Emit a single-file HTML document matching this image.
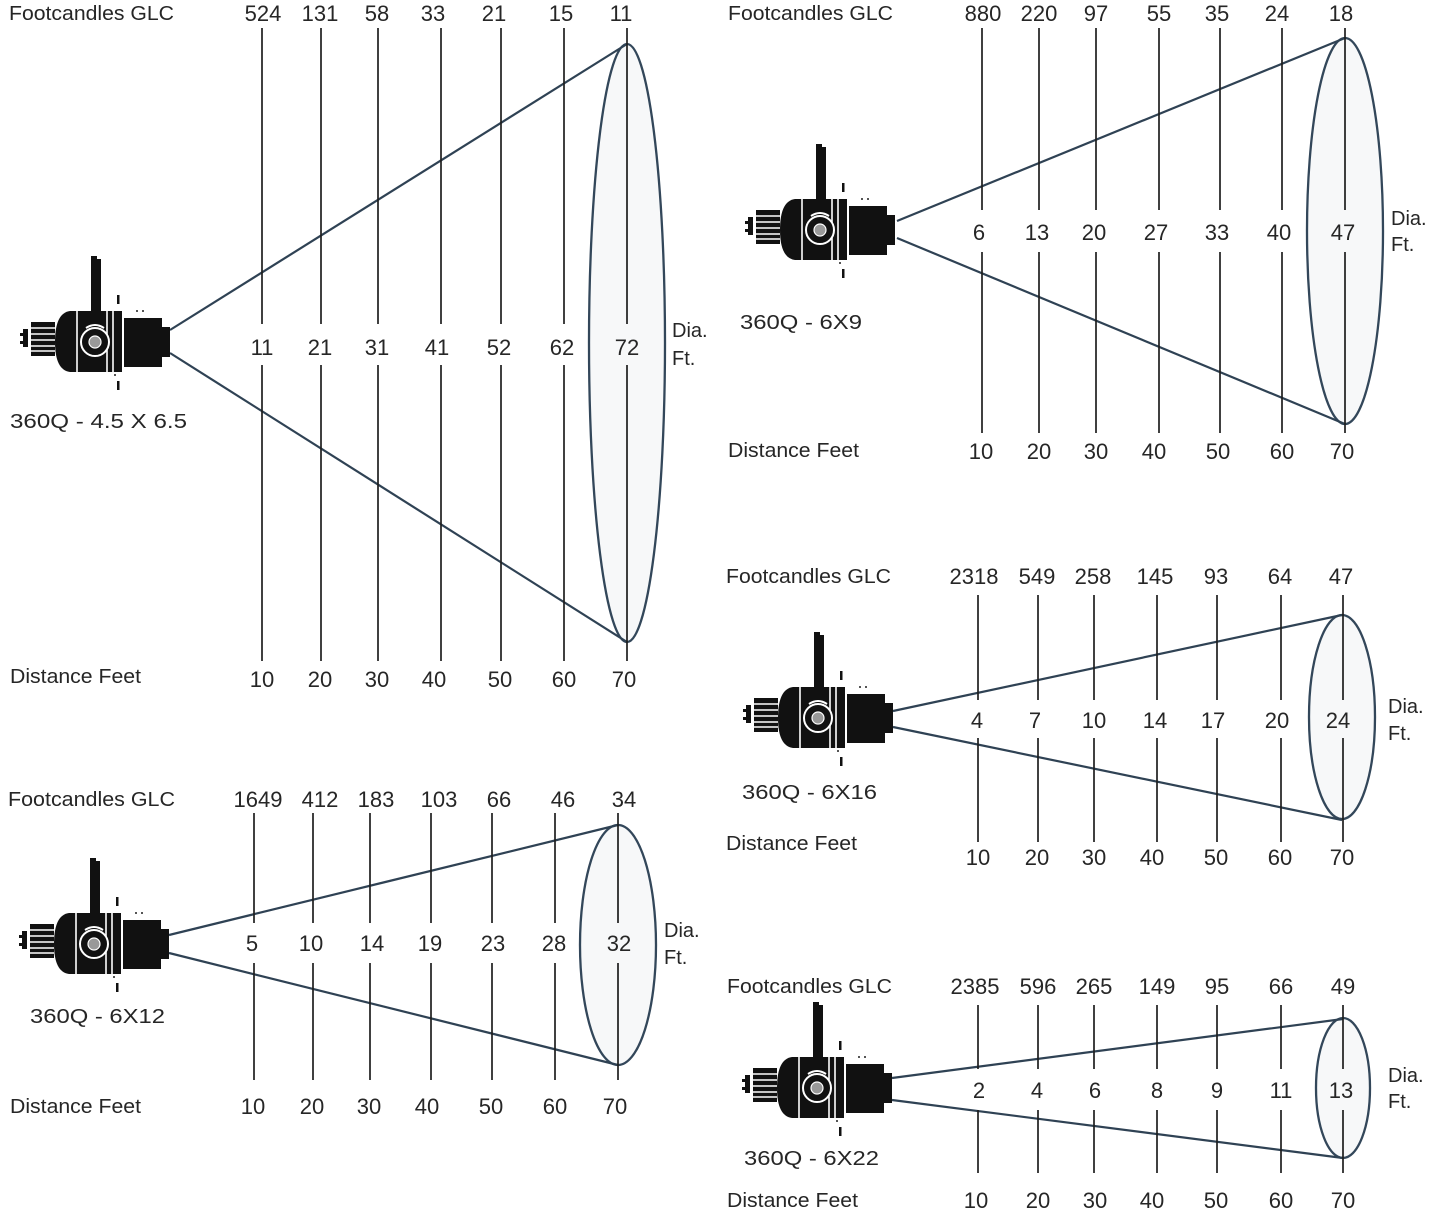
<!DOCTYPE html>
<html><head><meta charset="utf-8"><style>
html,body{margin:0;padding:0;background:#fff;}
svg{display:block;}
text{font-family:"Liberation Sans",sans-serif;fill:#262626;}
.n{font-size:22px;text-anchor:middle;}
.w{font-size:20px;}
.v{stroke:#1e1e1e;stroke-width:1.7;}
.c{stroke:#2f4254;stroke-width:2.2;fill:none;}
.e{stroke:#33475a;stroke-width:2.3;fill:#f7f8f9;}
</style></head><body>
<svg width="1445" height="1227" viewBox="0 0 1445 1227" xmlns="http://www.w3.org/2000/svg">
<defs>
<g id="fx">
  <rect x="-147" y="-13" width="5" height="18" fill="#111"/>
  <rect x="-150" y="-9" width="3" height="3" fill="#111"/>
  <rect x="-150" y="-1" width="3" height="3" fill="#111"/>
  <rect x="-139" y="-20" width="24" height="34" fill="#111"/>
  <g stroke="#fff" stroke-width="1.4">
    <line x1="-139" y1="-14" x2="-115" y2="-14"/>
    <line x1="-139" y1="-8" x2="-115" y2="-8"/>
    <line x1="-139" y1="-2" x2="-115" y2="-2"/>
    <line x1="-139" y1="4" x2="-115" y2="4"/>
    <line x1="-139" y1="9" x2="-115" y2="9"/>
  </g>
  <path d="M-100 -31 L-48 -31 L-48 30 L-100 30 Q-115 28 -115 0 Q-115 -29 -100 -31 Z" fill="#111"/>
  <g stroke="#fff" stroke-width="1.6">
    <line x1="-93" y1="-31" x2="-93" y2="30"/>
    <line x1="-63" y1="-31" x2="-63" y2="30"/>
    <line x1="-57" y1="-31" x2="-57" y2="30"/>
  </g>
  <rect x="-46" y="-24" width="38" height="49" fill="#111"/>
  <rect x="-8" y="-15" width="8" height="30" fill="#111"/>
  <rect x="-79" y="-83" width="10" height="68" fill="#111"/>
  <rect x="-79" y="-86" width="6" height="3" fill="#111"/>
  <circle cx="-75" cy="0" r="14" fill="#111" stroke="#fff" stroke-width="2"/>
  <path d="M-84 -14 Q-75 -20 -66 -14" stroke="#fff" stroke-width="2" fill="none"/>
  <circle cx="-75" cy="0" r="6" fill="#999" stroke="#fff" stroke-width="1.2"/>
  <rect x="-53" y="-47" width="2.5" height="9" fill="#111"/>
  <rect x="-53" y="39" width="2.5" height="9" fill="#111"/>
  <rect x="-34" y="-32" width="2" height="2" fill="#555"/>
  <rect x="-28" y="-32" width="2" height="2" fill="#555"/>
  <rect x="-56" y="32" width="2" height="2" fill="#555"/>
</g>
</defs>

<!-- ===== Diagram 1 (top-left) ===== -->
<ellipse class="e" cx="627" cy="343" rx="38" ry="299"/>
<line class="c" x1="170" y1="330" x2="627" y2="44"/>
<line class="c" x1="170" y1="353" x2="627" y2="642"/>
<g class="v">
<line x1="262" y1="28" x2="262" y2="324"/><line x1="262" y1="365" x2="262" y2="661"/>
<line x1="321" y1="28" x2="321" y2="324"/><line x1="321" y1="365" x2="321" y2="661"/>
<line x1="378" y1="28" x2="378" y2="324"/><line x1="378" y1="365" x2="378" y2="661"/>
<line x1="441" y1="28" x2="441" y2="324"/><line x1="441" y1="365" x2="441" y2="661"/>
<line x1="501" y1="28" x2="501" y2="324"/><line x1="501" y1="365" x2="501" y2="661"/>
<line x1="564" y1="28" x2="564" y2="324"/><line x1="564" y1="365" x2="564" y2="661"/>
<line x1="627" y1="28" x2="627" y2="324"/><line x1="627" y1="365" x2="627" y2="661"/>
</g>
<use href="#fx" x="170" y="342"/>
<text class="w" x="9" y="20" textLength="165" lengthAdjust="spacingAndGlyphs">Footcandles GLC</text>
<text class="w" x="10" y="683" textLength="131" lengthAdjust="spacingAndGlyphs">Distance Feet</text>
<text class="w" x="10" y="428" textLength="177" lengthAdjust="spacingAndGlyphs">360Q - 4.5 X 6.5</text>
<text class="w" x="672" y="337">Dia.</text>
<text class="w" x="672" y="365">Ft.</text>
<g class="n">
<text x="263" y="21">524</text><text x="320" y="21">131</text><text x="377" y="21">58</text><text x="433" y="21">33</text><text x="494" y="21">21</text><text x="561" y="21">15</text><text x="621" y="21">11</text>
<text x="262" y="355">11</text><text x="320" y="355">21</text><text x="377" y="355">31</text><text x="437" y="355">41</text><text x="499" y="355">52</text><text x="562" y="355">62</text><text x="627" y="355">72</text>
<text x="262" y="687">10</text><text x="320" y="687">20</text><text x="377" y="687">30</text><text x="434" y="687">40</text><text x="500" y="687">50</text><text x="564" y="687">60</text><text x="624" y="687">70</text>
</g>

<!-- ===== Diagram 2 (top-right) ===== -->
<ellipse class="e" cx="1345" cy="231" rx="38" ry="193"/>
<line class="c" x1="897" y1="221" x2="1345" y2="38"/>
<line class="c" x1="897" y1="238" x2="1345" y2="424"/>
<g class="v">
<line x1="982" y1="28" x2="982" y2="210"/><line x1="982" y1="252" x2="982" y2="433"/>
<line x1="1039" y1="28" x2="1039" y2="210"/><line x1="1039" y1="252" x2="1039" y2="433"/>
<line x1="1096" y1="28" x2="1096" y2="210"/><line x1="1096" y1="252" x2="1096" y2="433"/>
<line x1="1159" y1="28" x2="1159" y2="210"/><line x1="1159" y1="252" x2="1159" y2="433"/>
<line x1="1220" y1="28" x2="1220" y2="210"/><line x1="1220" y1="252" x2="1220" y2="433"/>
<line x1="1282" y1="28" x2="1282" y2="210"/><line x1="1282" y1="252" x2="1282" y2="433"/>
<line x1="1345" y1="28" x2="1345" y2="210"/><line x1="1345" y1="252" x2="1345" y2="433"/>
</g>
<use href="#fx" x="895" y="230"/>
<text class="w" x="728" y="20" textLength="165" lengthAdjust="spacingAndGlyphs">Footcandles GLC</text>
<text class="w" x="728" y="457" textLength="131" lengthAdjust="spacingAndGlyphs">Distance Feet</text>
<text class="w" x="740" y="329" textLength="122" lengthAdjust="spacingAndGlyphs">360Q - 6X9</text>
<text class="w" x="1391" y="225">Dia.</text>
<text class="w" x="1391" y="251">Ft.</text>
<g class="n">
<text x="983" y="21">880</text><text x="1039" y="21">220</text><text x="1096" y="21">97</text><text x="1159" y="21">55</text><text x="1217" y="21">35</text><text x="1277" y="21">24</text><text x="1341" y="21">18</text>
<text x="979" y="240">6</text><text x="1037" y="240">13</text><text x="1094" y="240">20</text><text x="1156" y="240">27</text><text x="1217" y="240">33</text><text x="1279" y="240">40</text><text x="1343" y="240">47</text>
<text x="981" y="459">10</text><text x="1039" y="459">20</text><text x="1096" y="459">30</text><text x="1154" y="459">40</text><text x="1218" y="459">50</text><text x="1282" y="459">60</text><text x="1342" y="459">70</text>
</g>

<!-- ===== Diagram 3 (middle-right) ===== -->
<ellipse class="e" cx="1342" cy="717" rx="33" ry="102"/>
<line class="c" x1="893" y1="711" x2="1342" y2="615"/>
<line class="c" x1="893" y1="727" x2="1342" y2="820"/>
<g class="v">
<line x1="978" y1="595" x2="978" y2="700"/><line x1="978" y1="738" x2="978" y2="842"/>
<line x1="1038" y1="595" x2="1038" y2="700"/><line x1="1038" y1="738" x2="1038" y2="842"/>
<line x1="1094" y1="595" x2="1094" y2="700"/><line x1="1094" y1="738" x2="1094" y2="842"/>
<line x1="1157" y1="595" x2="1157" y2="700"/><line x1="1157" y1="738" x2="1157" y2="842"/>
<line x1="1217" y1="595" x2="1217" y2="700"/><line x1="1217" y1="738" x2="1217" y2="842"/>
<line x1="1281" y1="595" x2="1281" y2="700"/><line x1="1281" y1="738" x2="1281" y2="842"/>
<line x1="1343" y1="595" x2="1343" y2="700"/><line x1="1343" y1="738" x2="1343" y2="842"/>
</g>
<use href="#fx" x="893" y="718"/>
<text class="w" x="726" y="583" textLength="165" lengthAdjust="spacingAndGlyphs">Footcandles GLC</text>
<text class="w" x="726" y="850" textLength="131" lengthAdjust="spacingAndGlyphs">Distance Feet</text>
<text class="w" x="742" y="799" textLength="135" lengthAdjust="spacingAndGlyphs">360Q - 6X16</text>
<text class="w" x="1388" y="713">Dia.</text>
<text class="w" x="1388" y="740">Ft.</text>
<g class="n">
<text x="974" y="584">2318</text><text x="1037" y="584">549</text><text x="1093" y="584">258</text><text x="1155" y="584">145</text><text x="1216" y="584">93</text><text x="1280" y="584">64</text><text x="1341" y="584">47</text>
<text x="977" y="728">4</text><text x="1035" y="728">7</text><text x="1094" y="728">10</text><text x="1155" y="728">14</text><text x="1213" y="728">17</text><text x="1277" y="728">20</text><text x="1338" y="728">24</text>
<text x="978" y="865">10</text><text x="1037" y="865">20</text><text x="1094" y="865">30</text><text x="1152" y="865">40</text><text x="1216" y="865">50</text><text x="1280" y="865">60</text><text x="1342" y="865">70</text>
</g>

<!-- ===== Diagram 4 (bottom-left) ===== -->
<ellipse class="e" cx="618" cy="945" rx="38" ry="120"/>
<line class="c" x1="169" y1="935" x2="618" y2="825"/>
<line class="c" x1="169" y1="953" x2="618" y2="1065"/>
<g class="v">
<line x1="254" y1="813" x2="254" y2="923"/><line x1="254" y1="963" x2="254" y2="1080"/>
<line x1="313" y1="813" x2="313" y2="923"/><line x1="313" y1="963" x2="313" y2="1080"/>
<line x1="370" y1="813" x2="370" y2="923"/><line x1="370" y1="963" x2="370" y2="1080"/>
<line x1="431" y1="813" x2="431" y2="923"/><line x1="431" y1="963" x2="431" y2="1080"/>
<line x1="492" y1="813" x2="492" y2="923"/><line x1="492" y1="963" x2="492" y2="1080"/>
<line x1="555" y1="813" x2="555" y2="923"/><line x1="555" y1="963" x2="555" y2="1080"/>
<line x1="618" y1="813" x2="618" y2="923"/><line x1="618" y1="963" x2="618" y2="1080"/>
</g>
<use href="#fx" x="169" y="944"/>
<text class="w" x="8" y="806" textLength="167" lengthAdjust="spacingAndGlyphs">Footcandles GLC</text>
<text class="w" x="10" y="1113" textLength="131" lengthAdjust="spacingAndGlyphs">Distance Feet</text>
<text class="w" x="30" y="1023" textLength="135" lengthAdjust="spacingAndGlyphs">360Q - 6X12</text>
<text class="w" x="664" y="937">Dia.</text>
<text class="w" x="664" y="964">Ft.</text>
<g class="n">
<text x="258" y="807">1649</text><text x="320" y="807">412</text><text x="376" y="807">183</text><text x="439" y="807">103</text><text x="499" y="807">66</text><text x="563" y="807">46</text><text x="624" y="807">34</text>
<text x="252" y="951">5</text><text x="311" y="951">10</text><text x="372" y="951">14</text><text x="430" y="951">19</text><text x="493" y="951">23</text><text x="554" y="951">28</text><text x="619" y="951">32</text>
<text x="253" y="1114">10</text><text x="312" y="1114">20</text><text x="369" y="1114">30</text><text x="427" y="1114">40</text><text x="491" y="1114">50</text><text x="555" y="1114">60</text><text x="615" y="1114">70</text>
</g>

<!-- ===== Diagram 5 (bottom-right) ===== -->
<ellipse class="e" cx="1343" cy="1088" rx="27" ry="70"/>
<line class="c" x1="892" y1="1078" x2="1343" y2="1019"/>
<line class="c" x1="892" y1="1100" x2="1343" y2="1158"/>
<g class="v">
<line x1="978" y1="1005" x2="978" y2="1069"/><line x1="978" y1="1110" x2="978" y2="1173"/>
<line x1="1038" y1="1005" x2="1038" y2="1069"/><line x1="1038" y1="1110" x2="1038" y2="1173"/>
<line x1="1094" y1="1005" x2="1094" y2="1069"/><line x1="1094" y1="1110" x2="1094" y2="1173"/>
<line x1="1157" y1="1005" x2="1157" y2="1069"/><line x1="1157" y1="1110" x2="1157" y2="1173"/>
<line x1="1217" y1="1005" x2="1217" y2="1069"/><line x1="1217" y1="1110" x2="1217" y2="1173"/>
<line x1="1281" y1="1005" x2="1281" y2="1069"/><line x1="1281" y1="1110" x2="1281" y2="1173"/>
<line x1="1343" y1="1005" x2="1343" y2="1069"/><line x1="1343" y1="1110" x2="1343" y2="1173"/>
</g>
<use href="#fx" x="892" y="1088"/>
<text class="w" x="727" y="993" textLength="165" lengthAdjust="spacingAndGlyphs">Footcandles GLC</text>
<text class="w" x="727" y="1207" textLength="131" lengthAdjust="spacingAndGlyphs">Distance Feet</text>
<text class="w" x="744" y="1165" textLength="135" lengthAdjust="spacingAndGlyphs">360Q - 6X22</text>
<text class="w" x="1388" y="1082">Dia.</text>
<text class="w" x="1388" y="1108">Ft.</text>
<g class="n">
<text x="975" y="994">2385</text><text x="1038" y="994">596</text><text x="1094" y="994">265</text><text x="1157" y="994">149</text><text x="1217" y="994">95</text><text x="1281" y="994">66</text><text x="1343" y="994">49</text>
<text x="979" y="1098">2</text><text x="1037" y="1098">4</text><text x="1095" y="1098">6</text><text x="1157" y="1098">8</text><text x="1217" y="1098">9</text><text x="1281" y="1098">11</text><text x="1341" y="1098">13</text>
<text x="976" y="1208">10</text><text x="1038" y="1208">20</text><text x="1095" y="1208">30</text><text x="1152" y="1208">40</text><text x="1216" y="1208">50</text><text x="1281" y="1208">60</text><text x="1343" y="1208">70</text>
</g>
</svg>
</body></html>
